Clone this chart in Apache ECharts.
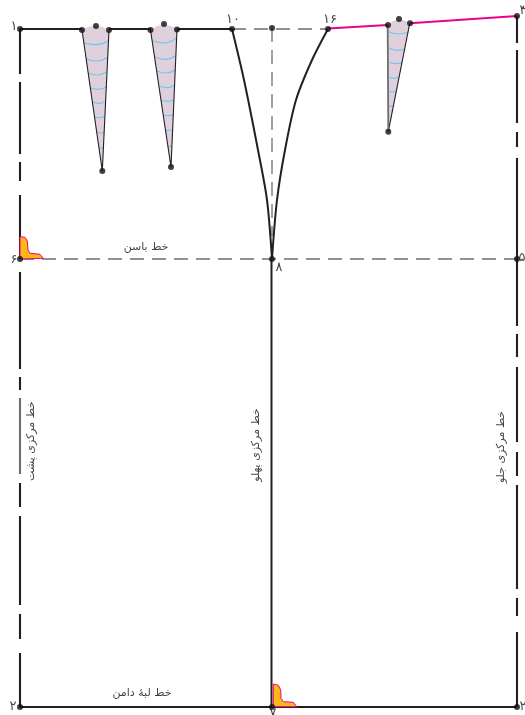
<!DOCTYPE html>
<html><head><meta charset="utf-8">
<style>html,body{margin:0;padding:0;background:#fff}#c{width:525px;height:715px}</style>
<script src="https://cdn.jsdelivr.net/npm/echarts@6/dist/echarts.min.js"></script>
</head><body><div id="c"></div>
<script>
const INK='#231f20',GREY='#6d6e71',PINK='#ec008c',CYAN='#6cc7ef',ROSE='#e0cfdd',YELLOW='#fdb913';
const leftX=20, rightX=517, midX=271.5, hipY=259, hemY=707;
const leftDashes=[[29,74],[82,154],[162,181],[195,259],[272,369],[377,390],[398,474],[483,507],[516,605],[614,639],[653,707]];
const rightDashes=[[16,43],[50,123],[132,147],[158,326],[334,357],[367,442],[452,476],[485,589],[598,616],[632,707]];
const waistSolid=[[[20,29],[82,29]],[[109,29],[151,29]],[[177,29],[232,29]]];
const waistDashed=[[232,29],[328,29]];
const waistPink=[[[328,28.5],[388,25]],[[410,23.3],[517,16]]];
const midGuide=[[272,28],[272,236]];
const hipLine=[[leftX,hipY],[rightX,hipY]];
const hemLine=[[leftX,hemY],[rightX,hemY]];
const midLine=[[midX,hipY],[midX,hemY]];
const backCurve=[[232,29],[244,80],[258,150],[267,200],[272,259]];
const frontCurve=[[328,29],[312,60],[296,100],[285,150],[277,200],[272,259]];
const dartA=[[82,30],[88,27],[96,25.5],[103,27],[109,30],[102.3,171]];
const dartB=[[150.5,30],[157,26],[164,24.5],[171,26],[177,29.5],[171,167]];
const dartC=[[387.7,25],[393,21],[399,19.5],[405,20.5],[409.7,23.5],[388.3,131.7]];
const dartEdges=[
 [[82,30],[102.3,171],[109,30]],
 [[150.5,30],[171,167],[177,29.5]],
 [[409.7,23.5],[388.3,131.7]]];
const dartGreyEdge=[[387.7,25],[388.3,131.7]];
const foldHints=[
 [[84,42.7],[95.7,44.7],[107.7,41]],[[86,58.7],[96.7,61],[107,57.7]],[[88.3,73],[97.3,75],[106.3,72]],
 [[90.7,88],[98.3,89.3],[105.7,87.3]],[[92.7,102],[99,103.3],[105,101.7]],[[94.7,116.7],[100,117.7],[104.7,116.3]],
 [[97,132.3],[100.7,133],[104,132.3]],[[99.3,148],[103.3,148]],
 [[152.7,40.7],[163.3,43],[176.7,37.7]],[[155,57],[165,59.3],[175.7,55.7]],[[157,71],[166,73],[175,70]],
 [[159.3,86],[167.3,87.7],[174.3,85.3]],[[161.3,100.3],[167.7,101.3],[173.7,99.7]],[[163.7,115],[168.3,115.7],[173,114.7]],
 [[165.7,130.7],[172.3,130]],[[168,146.3],[172,146]],
 [[389,31.7],[398.3,34],[408.3,32]],[[389.3,48],[396.7,50.3],[405.3,49]],[[389.3,62.3],[395.3,63.7],[402,62.7]],
 [[389.3,77.3],[394,78.3],[398.7,77.3]],[[389.3,91.3],[392.7,92],[395.7,91.3]],[[389.3,106],[392.7,106.3]]];
const cornerA=[[20,236.7],[25,237.3],[27.3,241],[28,250],[30,253.3],[40,254.3],[43.3,258.3],[20,259]];
const cornerB=[[273.3,684],[278.3,685.3],[280.7,690],[281,698.3],[283.3,701.7],[293.3,702.3],[296.7,706.7],[273.3,706.7]];
const dots=[[20,29],[82,30],[96,26],[109,30],[102.3,171],[150.5,30],[164,24],[177,29.5],[171,167],[232,29],[272,28],[328,29],
 [388,25],[399,19],[410,23.3],[388.3,131.7],[517,16],[20,hipY],[272,hipY],[517,hipY],[20,hemY],[272,hemY],[517,hemY]];
const horizontalLabels=[['۱',14,27],['۱۰',233,20],['۱۶',330,20],['۳',523,11],['۶',14,260],['۸',279,268],['۵',522,258],['۲',13,707],['۷',273,714],['۲',523,707]];
const textLabels=[['خط باسن',146,247],['خط لبهٔ دامن',142,693]];
const verticalLabels=[['خط مرکزی پشت',31,441],['خط مرکزی پهلو',256,445],['خط مرکزی جلو',501,447]];

const line=(pts,color,width,extra)=>Object.assign({type:'line',data:pts,symbol:'none',silent:true,
  lineStyle:{color:color,width:width,cap:'butt'}},extra||{});
const poly=(shapes,fill,stroke,z)=>({type:'custom',silent:true,z:z,data:shapes.map((_,i)=>[i]),
  renderItem:(p,api)=>({type:'polygon',shape:{points:shapes[p.dataIndex].map(q=>api.coord(q))},
    style:{fill:fill,stroke:stroke,lineWidth:stroke?1:0}})});
const series=[];
series.push(poly([dartA,dartB,dartC],ROSE,null,1));
foldHints.forEach(f=>series.push(line(f,CYAN,1.2,{smooth:0.5,z:2})));
series.push(poly([cornerA,cornerB],YELLOW,PINK,6));
leftDashes.forEach((d,i)=>series.push(line([[leftX,d[0]],[leftX,d[1]]],i===6?GREY:INK,2.1,{z:3})));
rightDashes.forEach(d=>series.push(line([[rightX,d[0]],[rightX,d[1]]],INK,2.1,{z:3})));
waistSolid.forEach(s=>series.push(line(s,INK,2.1,{z:3})));
waistPink.forEach(s=>series.push(line(s,PINK,2.1,{z:3})));
[waistDashed,hipLine,midGuide].forEach(s=>series.push({type:'line',data:s,symbol:'none',silent:true,z:2,
  lineStyle:{color:GREY,width:1.3,type:[14,8]}}));
series.push(line(hemLine,INK,2.1,{z:3}));
series.push(line(midLine,INK,2,{z:3}));
series.push(line(backCurve,INK,2,{smooth:0.3,z:3}));
series.push(line(frontCurve,INK,2,{smooth:0.3,z:3}));
dartEdges.forEach(s=>series.push(line(s,INK,1.1,{z:3})));
series.push(line(dartGreyEdge,GREY,1.8,{z:3}));
series.push({type:'scatter',data:dots,symbolSize:6,silent:true,z:8,itemStyle:{color:'#111'}});
const labelSeries=(rows,rot,size)=>({type:'scatter',symbolSize:0,silent:true,z:9,
  data:rows.map(r=>({value:[r[1],r[2]],name:r[0]})),
  label:{show:true,position:'inside',formatter:'{b}',rotate:rot,color:'#111',fontSize:size,fontFamily:'"DejaVu Sans"',align:'center',verticalAlign:'middle'}});
series.push(labelSeries(horizontalLabels,0,13));
series.push(labelSeries(textLabels,0,11));
series.push(labelSeries(verticalLabels,90,11));

const chart=echarts.init(document.getElementById('c'),null,{renderer:'canvas'});
chart.setOption({animation:false,backgroundColor:'#fff',
  grid:{left:0,right:0,top:0,bottom:0},
  xAxis:{type:'value',min:0,max:525,show:false},
  yAxis:{type:'value',min:0,max:715,inverse:true,show:false},
  series:series});
</script></body></html>
